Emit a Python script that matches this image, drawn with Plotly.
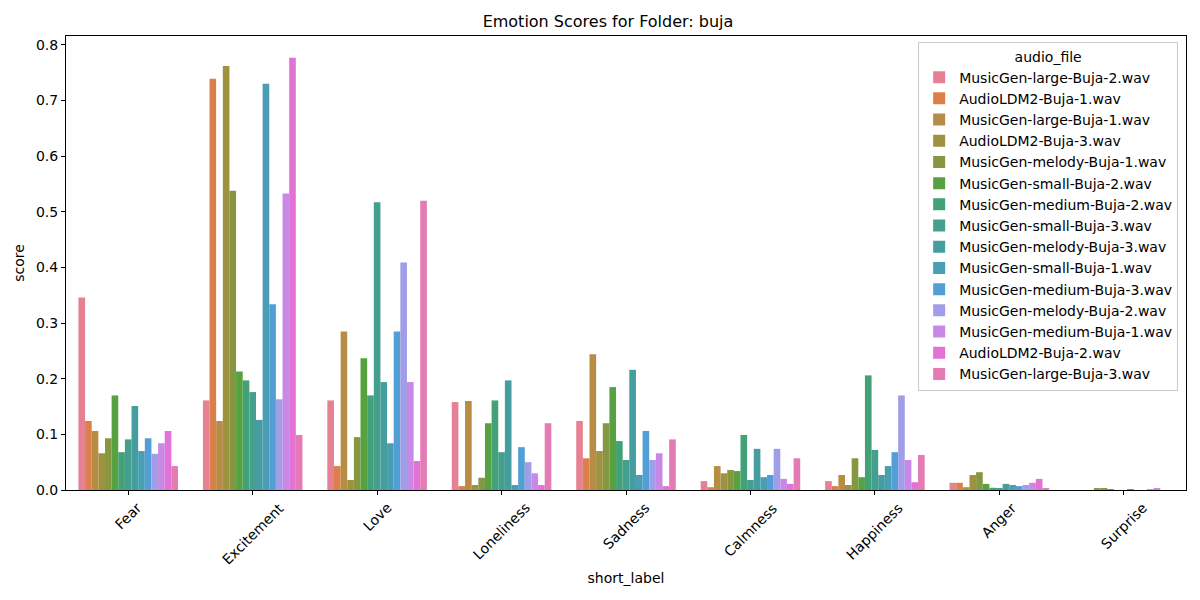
import colorsys
import math

import plotly.graph_objects as go

# emotion categories on the x axis
short_labels = ["Fear", "Excitement", "Love", "Loneliness", "Sadness",
                "Calmness", "Happiness", "Anger", "Surprise"]

# hue order, as in the legend
audio_files = [
    "MusicGen-large-Buja-2.wav",
    "AudioLDM2-Buja-1.wav",
    "MusicGen-large-Buja-1.wav",
    "AudioLDM2-Buja-3.wav",
    "MusicGen-melody-Buja-1.wav",
    "MusicGen-small-Buja-2.wav",
    "MusicGen-medium-Buja-2.wav",
    "MusicGen-small-Buja-3.wav",
    "MusicGen-melody-Buja-3.wav",
    "MusicGen-small-Buja-1.wav",
    "MusicGen-medium-Buja-3.wav",
    "MusicGen-melody-Buja-2.wav",
    "MusicGen-medium-Buja-1.wav",
    "AudioLDM2-Buja-2.wav",
    "MusicGen-large-Buja-3.wav",
]

# scores per emotion, one value per audio file (same order as audio_files)
fear = [0.346, 0.124, 0.106, 0.066, 0.093, 0.170, 0.068, 0.091,
        0.151, 0.070, 0.093, 0.065, 0.084, 0.106, 0.043]
excitement = [0.161, 0.739, 0.124, 0.762, 0.538, 0.213, 0.197, 0.176,
              0.126, 0.730, 0.334, 0.163, 0.533, 0.777, 0.099]
love = [0.161, 0.043, 0.285, 0.018, 0.095, 0.237, 0.170, 0.517,
        0.194, 0.084, 0.285, 0.409, 0.194, 0.052, 0.520]
loneliness = [0.158, 0.007, 0.160, 0.009, 0.022, 0.120, 0.161, 0.068,
              0.197, 0.009, 0.077, 0.050, 0.030, 0.009, 0.120]
sadness = [0.124, 0.057, 0.244, 0.070, 0.120, 0.185, 0.088, 0.054,
           0.216, 0.027, 0.106, 0.054, 0.066, 0.007, 0.091]
calmness = [0.016, 0.005, 0.043, 0.030, 0.036, 0.034, 0.099, 0.018,
            0.074, 0.023, 0.027, 0.074, 0.020, 0.011, 0.057]
happiness = [0.016, 0.007, 0.027, 0.009, 0.057, 0.023, 0.206, 0.072,
             0.027, 0.043, 0.068, 0.170, 0.054, 0.014, 0.063]
anger = [0.013, 0.013, 0.005, 0.027, 0.032, 0.011, 0.004, 0.002,
         0.011, 0.009, 0.007, 0.009, 0.013, 0.020, 0.002]
surprise = [0.000, 0.000, 0.000, 0.003, 0.003, 0.001, 0.000, 0.000,
            0.001, 0.000, 0.000, 0.001, 0.003, 0.000, 0.000]

scores = [fear, excitement, love, loneliness, sadness,
          calmness, happiness, anger, surprise]


# --- seaborn-like husl palette (desaturated 0.75 like barplot) ---
M = [[3.2406, -1.5372, -0.4986],
     [-0.9689, 1.8758, 0.0415],
     [0.0557, -0.2040, 1.0570]]
REF_U, REF_V = 0.19784, 0.46834
KAPPA, EPS = 903.2963, 0.0088565


def max_chroma(L, H):
    hrad = math.radians(H)
    sin_h, cos_h = math.sin(hrad), math.cos(hrad)
    sub1 = (L + 16) ** 3 / 1560896.0
    sub2 = sub1 if sub1 > EPS else L / KAPPA
    result = float("inf")
    for m1, m2, m3 in M:
        top = (0.99915 * m1 + 1.05122 * m2 + 1.14460 * m3) * sub2
        rbottom = 0.86330 * m3 - 0.17266 * m2
        lbottom = 0.12949 * m3 - 0.38848 * m1
        bottom = (rbottom * sin_h + lbottom * cos_h) * sub2
        for t in (0.0, 1.0):
            c = L * (top - 1.05122 * t) / (bottom + 0.17266 * sin_h * t)
            if 0 < c < result:
                result = c
    return result


def husl_to_rgb(h, s, l):
    c = max_chroma(l, h) / 100.0 * s
    u = c * math.cos(math.radians(h))
    v = c * math.sin(math.radians(h))
    var_y = ((l + 16) / 116.0) ** 3 if l > 8 else l / KAPPA
    var_u = u / (13 * l) + REF_U
    var_v = v / (13 * l) + REF_V
    y = var_y
    x = -(9 * y * var_u) / ((var_u - 4) * var_v - var_u * var_v)
    z = (9 * y - 15 * var_v * y - var_v * x) / (3 * var_v)
    out = []
    for row in M:
        lin = row[0] * x + row[1] * y + row[2] * z
        if lin <= 0.0031308:
            val = 12.92 * lin
        else:
            val = 1.055 * lin ** (1 / 2.4) - 0.055
        out.append(min(max(val, 0.0), 1.0))
    return out


def palette(n):
    cols = []
    for i in range(n):
        hue = ((i / n) + 0.01) % 1 * 359
        r, g, b = husl_to_rgb(hue, 0.9 * 99, 0.65 * 99)
        hh, ll, ss = colorsys.rgb_to_hls(r, g, b)
        r, g, b = colorsys.hls_to_rgb(hh, ll, ss * 0.75)
        cols.append("rgb(%d,%d,%d)" % (round(r * 255), round(g * 255), round(b * 255)))
    return cols


colors = palette(len(audio_files))

fig = go.Figure()
for i, name in enumerate(audio_files):
    fig.add_trace(go.Bar(
        x=short_labels,
        y=[s[i] for s in scores],
        name=name,
        marker=dict(color=colors[i], line=dict(width=0)),
    ))

# rotated category labels centred under each tick (matplotlib style)
for lab in short_labels:
    fig.add_annotation(
        x=lab, xref="x", y=0, yref="paper", yshift=-7,
        xanchor="center", yanchor="top", textangle=-45,
        text=lab, showarrow=False, font=dict(size=14),
    )

font = "DejaVu Sans"
# the page adds ~8px body margin, so the margins are shifted to compensate
fig.update_layout(
    width=1200, height=600,
    barmode="group", bargap=0.2, bargroupgap=0,
    plot_bgcolor="white", paper_bgcolor="white",
    font=dict(family=font, size=14, color="black"),
    margin=dict(l=58, r=22, t=28, b=118, autoexpand=False),
    title=dict(text="Emotion Scores for Folder: buja", x=0.5, xanchor="center",
               y=0.978, yanchor="middle", font=dict(size=16)),
    xaxis=dict(
        title=dict(text="short_label", font=dict(size=14), standoff=6),
        range=[-0.5, 8.5], automargin=False, showticklabels=True,
        tickfont=dict(size=14, color="rgba(0,0,0,0)"), tickangle=-45,
        showline=True, mirror=True, linecolor="black", linewidth=1,
        ticks="outside", ticklen=4, tickcolor="black",
    ),
    yaxis=dict(
        title=dict(text="score", font=dict(size=14), standoff=8),
        range=[0, 0.816], tickformat=".1f", dtick=0.1, automargin=False,
        showgrid=False, zeroline=False,
        showline=True, mirror=True, linecolor="black", linewidth=1,
        ticks="outside", ticklen=4, tickcolor="black",
        tickfont=dict(size=14),
    ),
    legend=dict(
        title=dict(text="audio_file", side="top center", font=dict(size=14)),
        x=0.993, y=0.986, xanchor="right", yanchor="top",
        bgcolor="rgba(255,255,255,0.8)", bordercolor="#cccccc", borderwidth=1,
        font=dict(size=14), tracegroupgap=0, itemwidth=30,
    ),
)

fig.write_html("out.html")
